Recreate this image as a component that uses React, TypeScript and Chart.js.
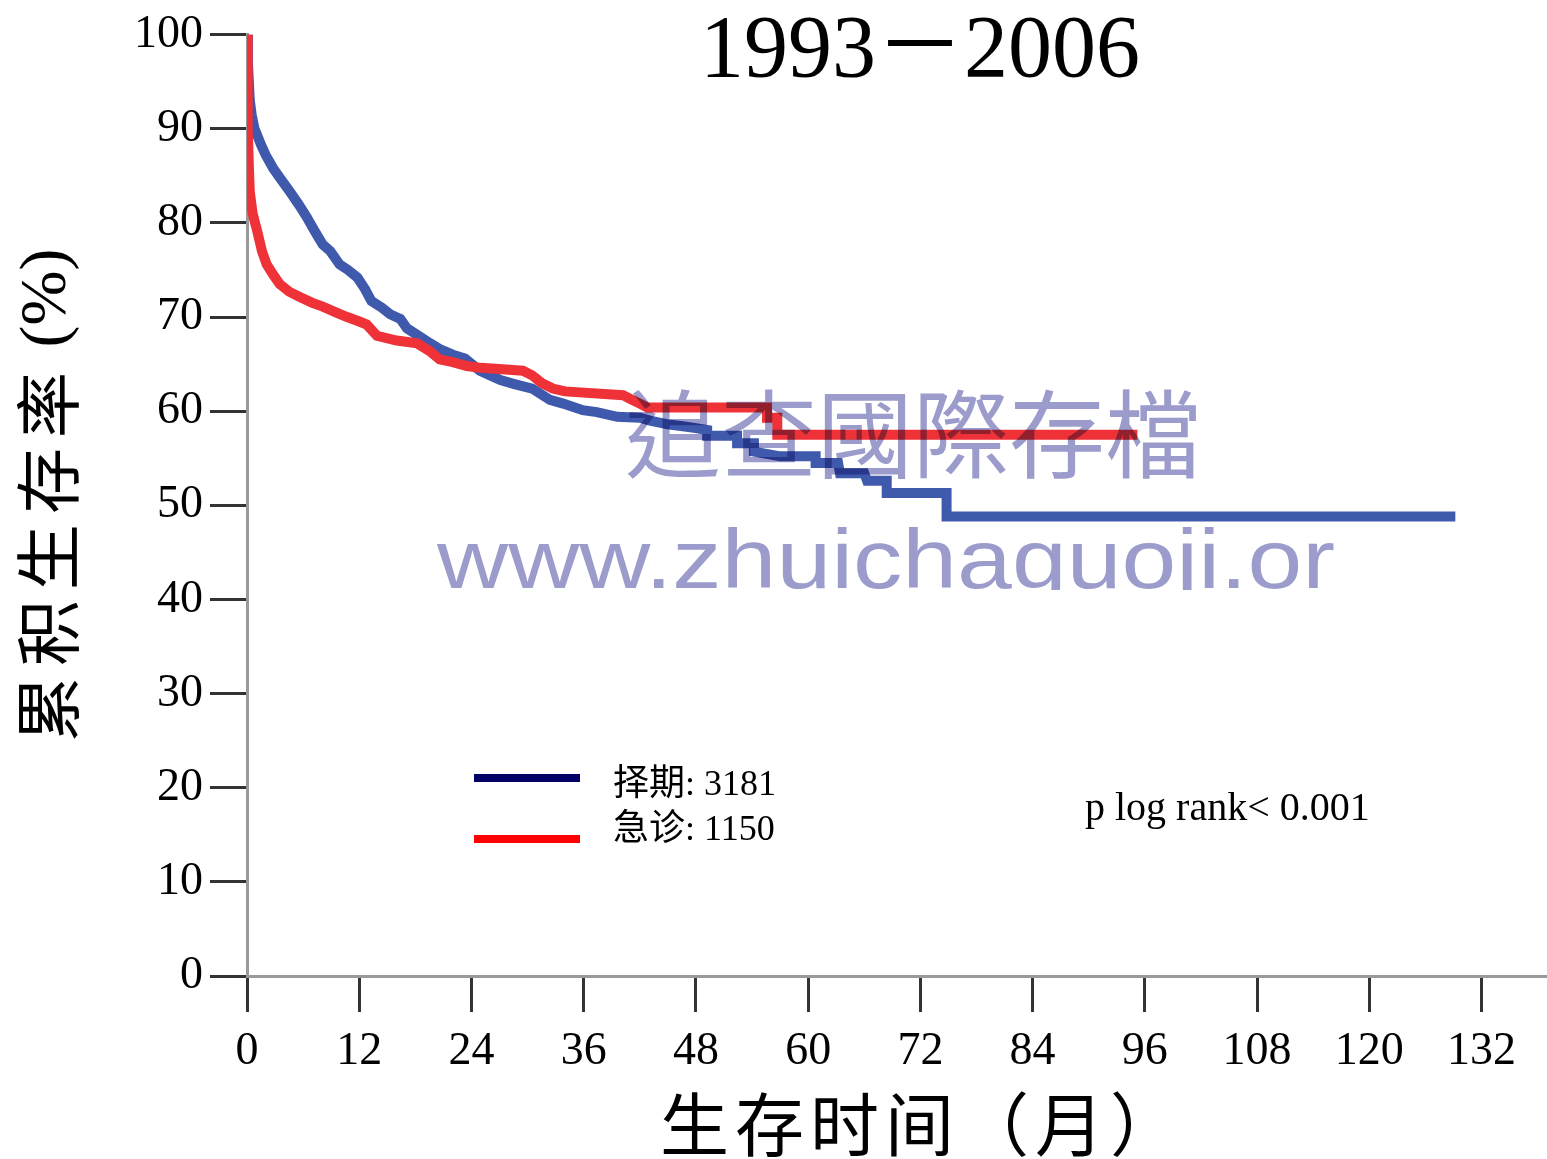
import React, { useEffect, useRef } from "react";
import { Chart, registerables } from "chart.js";

Chart.register(...registerables);

// ---------- data ----------
const chartTitle = "1993－2006";
const xAxisTitle = "生存时间（月）";
const yAxisTitleCJK = "累积生存率";
const yAxisTitleUnit = " (%)";
const seriesLabels = ["择期", "急诊"];
const seriesCounts = [3181, 1150];
const pValueText = "p log rank< 0.001";
const watermarkLines = ["追查國際存檔", "www.zhuichaguoji.or"];

const xTicks = [0, 12, 24, 36, 48, 60, 72, 84, 96, 108, 120, 132];
const yTicks = [0, 10, 20, 30, 40, 50, 60, 70, 80, 90, 100];

// 择期 (elective); repeated months mark visible steps
const electiveMonths = [
  0, 0.1, 0.2, 0.3, 0.5, 0.8, 1.1, 1.5, 2.0, 2.8, 3.5, 4.6, 5.5, 6.4, 7.2, 8.1,
  8.9, 9.9, 10.8, 11.8, 12.6, 13.3, 14.4, 15.3, 16.4, 17.1, 18.5, 19.6, 20.6,
  22.0, 23.3, 24.9, 26.0, 27.1, 28.5, 30.5, 32.4, 33.8, 35.9, 37.4, 39.6, 42.0,
  43.1, 45.0, 46.6, 48.0, 49.2, 49.2, 52.4, 52.4, 54.2, 54.2, 57.0, 60.8, 60.8,
  63.2, 63.4, 66.0, 66.3, 68.4, 68.4, 74.8, 74.8, 129.2,
];
const electiveSurvival = [
  100, 97, 95, 93, 91.5, 90, 89.3, 88.3, 87.2, 85.8, 84.8, 83.3, 82.0, 80.6,
  79.2, 77.7, 77.0, 75.6, 75.0, 74.2, 73.0, 71.7, 71.0, 70.3, 69.8, 68.8, 67.9,
  67.2, 66.6, 66.0, 65.6, 64.3, 63.8, 63.3, 62.9, 62.4, 61.2, 60.8, 60.1, 59.9,
  59.4, 59.3, 59.0, 58.6, 58.4, 58.2, 58.0, 57.4, 57.4, 56.6, 56.6, 55.7, 55.2,
  55.2, 54.5, 54.5, 53.4, 53.4, 52.6, 52.6, 51.3, 51.3, 48.8, 48.8,
];

// 急诊 (emergency)
const emergencyMonths = [
  0, 0.05, 0.1, 0.2, 0.3, 0.6, 1.1, 1.6, 2.1, 2.8, 3.5, 4.5, 5.7, 7.0, 8.1, 9.5,
  10.7, 11.8, 12.8, 13.9, 16.0, 18.2, 19.5, 20.6, 22.0, 23.5, 25.0, 29.5, 30.5,
  31.5, 32.7, 34.0, 40.2, 41.0, 42.0, 42.8, 55.6, 55.6, 56.7, 56.7, 95.2,
];
const emergencySurvival = [
  100, 95, 90, 86, 83.3, 81, 79.1, 77, 75.6, 74.5, 73.5, 72.7, 72.1, 71.5, 71.1,
  70.5, 70.0, 69.6, 69.2, 68.0, 67.5, 67.2, 66.4, 65.5, 65.2, 64.8, 64.6, 64.3,
  63.8, 63.0, 62.4, 62.1, 61.7, 61.3, 60.8, 60.4, 60.4, 59.3, 59.3, 57.5, 57.5,
];

const toPoints = (xs: number[], ys: number[]) => xs.map((x, i) => ({ x, y: ys[i] }));

const SERIF = "'Liberation Serif', 'Noto Sans CJK SC'";

const overlayPlugin = {
  id: "overlay",
  afterDraw(chart: any) {
    const ctx: CanvasRenderingContext2D = chart.ctx;
    ctx.save();

    // main title
    ctx.fillStyle = "#000";
    ctx.font = `88px ${SERIF}`;
    ctx.textAlign = "center";
    ctx.textBaseline = "alphabetic";
    ctx.fillText(chartTitle, 920, 76);

    // x axis title (fixed character pitch)
    ctx.font = "69px 'Noto Sans CJK SC'";
    ctx.textAlign = "left";
    ctx.textBaseline = "middle";
    Array.from(xAxisTitle).forEach((ch, i) => {
      ctx.fillText(ch, 660 + i * 75, 1125);
    });

    // y axis title (rotated, fixed character pitch)
    ctx.save();
    ctx.translate(48, 742);
    ctx.rotate(-Math.PI / 2);
    ctx.font = "66px 'Noto Sans CJK SC'";
    ctx.textAlign = "left";
    ctx.textBaseline = "middle";
    Array.from(yAxisTitleCJK).forEach((ch, i) => {
      ctx.fillText(ch, i * 76, 0);
    });
    ctx.font = "66px 'Liberation Serif'";
    ctx.fillText(yAxisTitleUnit, 378, 0);
    ctx.restore();

    // legend
    const legendColors = ["#000066", "#ff0000"];
    const legendY = [778, 839];
    const textY = [795, 840];
    ctx.textBaseline = "alphabetic";
    for (let i = 0; i < seriesLabels.length; i++) {
      ctx.strokeStyle = legendColors[i];
      ctx.lineWidth = 8;
      ctx.lineCap = "butt";
      ctx.beginPath();
      ctx.moveTo(474, legendY[i]);
      ctx.lineTo(580, legendY[i]);
      ctx.stroke();
      ctx.fillStyle = "#000";
      ctx.font = `36px ${SERIF}`;
      ctx.textAlign = "left";
      ctx.fillText(`${seriesLabels[i]}: ${seriesCounts[i]}`, 613, textY[i]);
    }

    // p value
    ctx.font = `40px ${SERIF}`;
    ctx.fillText(pValueText, 1085, 820);

    // watermark
    ctx.globalCompositeOperation = "multiply";
    ctx.fillStyle = "#9b9bcc";
    ctx.font = "96px 'Noto Sans CJK TC'";
    ctx.textAlign = "left";
    ctx.fillText(watermarkLines[0], 625, 470);

    ctx.save();
    ctx.beginPath();
    ctx.rect(0, 0, chart.width, 590);
    ctx.clip();
    ctx.font = "83px 'Liberation Sans'";
    const w = ctx.measureText(watermarkLines[1]).width;
    ctx.translate(437, 588);
    ctx.scale(898 / w, 1);
    ctx.fillText(watermarkLines[1], 0, 0);
    ctx.restore();

    ctx.restore();
  },
};

export default function App() {
  const canvasRef = useRef<HTMLCanvasElement | null>(null);

  useEffect(() => {
    document.body.style.margin = "0";
    document.body.style.overflow = "hidden";
    const canvas = canvasRef.current;
    if (!canvas) return;

    const chart = new Chart(canvas, {
      type: "line",
      data: {
        datasets: [
          {
            label: seriesLabels[0],
            data: toPoints(electiveMonths, electiveSurvival),
            borderColor: "#3f5aad",
            backgroundColor: "#3f5aad",
            borderWidth: 10,
            pointRadius: 0,
            tension: 0,
            fill: false,
            order: 1,
          },
          {
            label: seriesLabels[1],
            data: toPoints(emergencyMonths, emergencySurvival),
            borderColor: "#ee3238",
            backgroundColor: "#ee3238",
            borderWidth: 10,
            pointRadius: 0,
            tension: 0,
            fill: false,
            order: 0,
          },
        ],
      },
      options: {
        animation: false,
        responsive: false,
        devicePixelRatio: 1,
        parsing: false as any,
        layout: { padding: { top: 29, right: 0, bottom: 0, left: 0 } },
        plugins: {
          legend: { display: false },
          tooltip: { enabled: false },
          title: { display: false },
        },
        scales: {
          x: {
            type: "linear",
            min: 0,
            max: 139,
            afterBuildTicks: (s: any) => {
              s.ticks = xTicks.map((v) => ({ value: v }));
            },
            afterFit: (s: any) => {
              s.height = 183;
            },
            ticks: {
              autoSkip: false,
              maxRotation: 0,
              minRotation: 0,
              padding: 12,
              color: "#000",
              font: { family: "'Liberation Serif'", size: 46 },
              callback: (v: any) => String(v),
            },
            grid: {
              drawOnChartArea: false,
              drawTicks: true,
              tickLength: 36,
              tickWidth: 3,
              tickColor: "#333",
              color: "#333",
            },
            border: { display: true, color: "#9a9a9a", width: 3 },
            title: { display: false },
          },
          y: {
            type: "linear",
            min: 0,
            max: 100,
            afterBuildTicks: (s: any) => {
              s.ticks = yTicks.map((v) => ({ value: v }));
            },
            afterFit: (s: any) => {
              s.width = 247;
            },
            ticks: {
              padding: 7,
              color: "#000",
              font: { family: "'Liberation Serif'", size: 46 },
              callback: (v: any) => String(v),
            },
            grid: {
              drawOnChartArea: false,
              drawTicks: true,
              tickLength: 37,
              tickWidth: 3,
              tickColor: "#333",
              color: "#333",
            },
            border: { display: true, color: "#9a9a9a", width: 3 },
            title: { display: false },
          },
        },
      },
      plugins: [overlayPlugin],
    } as any);

    return () => chart.destroy();
  }, []);

  return (
    <div style={{ position: "absolute", left: 0, top: 0, width: 1547, height: 1159, background: "#fff" }}>
      <canvas ref={canvasRef} width={1547} height={1159} style={{ display: "block" }} />
    </div>
  );
}
